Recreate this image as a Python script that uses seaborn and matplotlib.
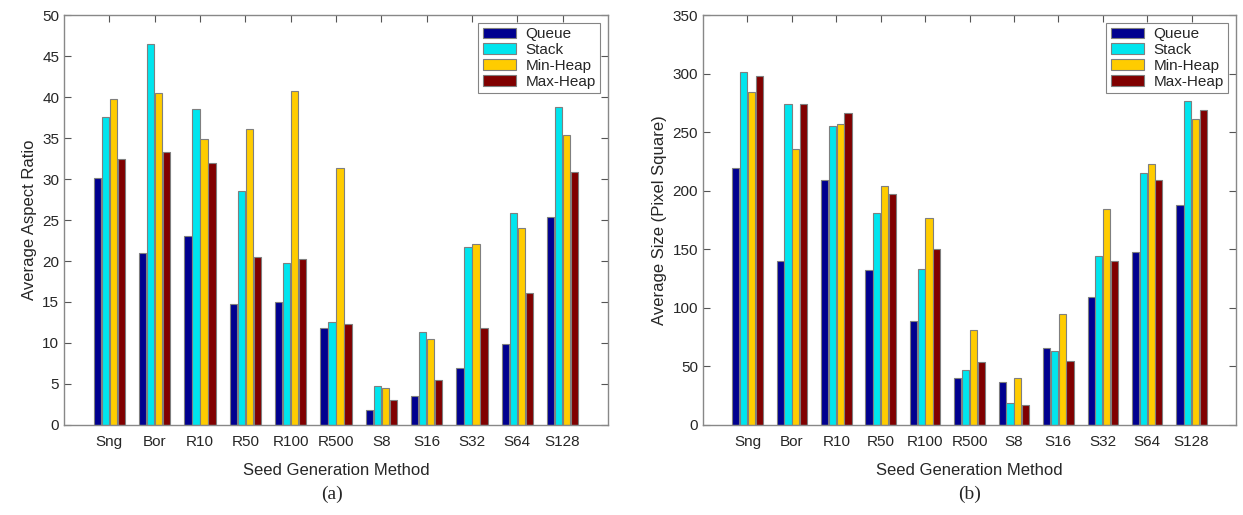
import numpy as np
import pandas as pd
import matplotlib.pyplot as plt
import seaborn as sns

# ─── Data ────────────────────────────────────────────────────────────────────
methods = ["Sng", "Bor", "R10", "R50", "R100", "R500", "S8", "S16", "S32", "S64", "S128"]
series = ["Queue", "Stack", "Min-Heap", "Max-Heap"]

aspect_queue = [30.1, 21.0, 23.1, 14.8, 15.0, 11.8, 1.8, 3.5, 7.0, 9.9, 25.4]
aspect_stack = [37.6, 46.5, 38.6, 28.5, 19.7, 12.5, 4.7, 11.4, 21.7, 25.9, 38.8]
aspect_minheap = [39.7, 40.5, 34.9, 36.1, 40.7, 31.4, 4.5, 10.5, 22.1, 24.0, 35.4]
aspect_maxheap = [32.5, 33.3, 31.9, 20.5, 20.3, 12.3, 3.1, 5.5, 11.8, 16.1, 30.9]

size_queue = [219, 140, 209, 132, 89, 40, 37, 66, 109, 148, 188]
size_stack = [301, 274, 255, 181, 133, 47, 19, 63, 144, 215, 277]
size_minheap = [284, 236, 257, 204, 177, 81, 40, 95, 184, 223, 261]
size_maxheap = [298, 274, 266, 197, 150, 54, 17, 55, 140, 209, 269]

COLORS = ["#00008F", "#00E5EE", "#FFCC00", "#800000"]
EDGE = "#7F7F7F"


def long_frame(cols):
    rows = []
    for name, vals in zip(series, cols):
        for m, v in zip(methods, vals):
            rows.append({"method": m, "series": name, "value": v})
    return pd.DataFrame(rows)


sns.set_style("ticks")
plt.rcParams["font.family"] = ["Liberation Sans", "DejaVu Sans"]

fig = plt.figure(figsize=(12.43, 5.15), dpi=100)
ax_a = fig.add_axes([0.0515, 0.1748, 0.4376, 0.796])
ax_b = fig.add_axes([0.5656, 0.1748, 0.4288, 0.796])


def draw(ax, df, ylim, step, ylabel):
    sns.barplot(data=df, x="method", y="value", hue="series", order=methods,
                hue_order=series, palette=COLORS, saturation=1, width=0.7, gap=0.08,
                edgecolor=EDGE, linewidth=0.8, errorbar=None, ax=ax)
    ax.set_xlim(-1, 11)
    ax.set_ylim(0, ylim)
    ax.set_yticks(np.arange(0, ylim + step / 2, step))
    ax.set_xlabel("Seed Generation Method", fontsize=12, labelpad=10)
    ax.set_ylabel(ylabel, fontsize=12)
    ax.tick_params(direction="in", top=True, right=True, length=5,
                   labelsize=11, color="#555555")
    ax.tick_params(axis="x", pad=7)
    for s in ax.spines.values():
        s.set_visible(True)
        s.set_color("#888888")
        s.set_linewidth(1.0)
    leg = ax.legend(loc="upper right", fontsize=11, frameon=True, fancybox=False,
                    borderaxespad=0.5, handlelength=2.2, handletextpad=0.6,
                    labelspacing=0.12, borderpad=0.3)
    leg.get_frame().set_edgecolor("#666666")
    leg.get_frame().set_linewidth(0.8)


draw(ax_a, long_frame([aspect_queue, aspect_stack, aspect_minheap, aspect_maxheap]),
     50, 5, "Average Aspect Ratio")
draw(ax_b, long_frame([size_queue, size_stack, size_minheap, size_maxheap]),
     350, 50, "Average Size (Pixel Square)")

fig.text(0.267, 0.04, "(a)", ha="center", va="center", fontsize=14,
         family="Liberation Serif")
fig.text(0.78, 0.04, "(b)", ha="center", va="center", fontsize=14,
         family="Liberation Serif")

fig.savefig("out.png", dpi=100)
